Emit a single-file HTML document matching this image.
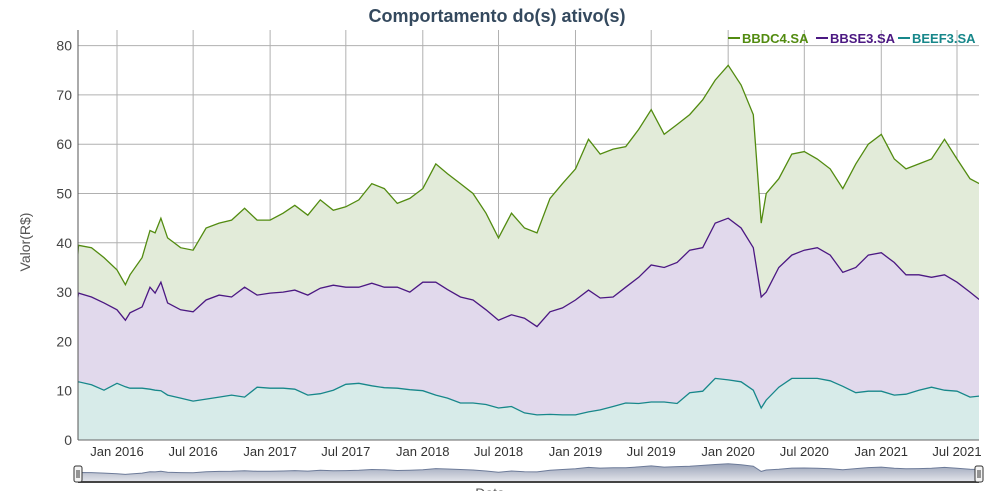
<!DOCTYPE html>
<html><head><meta charset="utf-8">
<style>
body{margin:0;background:#fff;font-family:"Liberation Sans",sans-serif;}
svg{display:block}
</style></head>
<body>
<svg id="chart" width="994" height="491" xmlns="http://www.w3.org/2000/svg">
  <text x="497" y="22" text-anchor="middle" font-size="18" font-weight="bold" fill="#34495e" font-family="Liberation Sans, sans-serif">Comportamento do(s) ativo(s)</text>
  <text transform="translate(30,242) rotate(-90)" text-anchor="middle" font-size="14" fill="#555">Valor(R$)</text>
  <text x="490" y="498" text-anchor="middle" font-size="14" fill="#555">Data</text>
  <g id="grid"></g>
  <g id="areas"></g>
  <g id="axes"></g>
  <g id="legend"></g>
  <g id="nav"></g>
</svg>
<script>
const dates = ["2015-09-28",
"2015-10-01","2015-11-01","2015-12-01",
"2016-01-01","2016-01-21","2016-02-01","2016-03-01","2016-03-20","2016-04-01","2016-04-15","2016-05-01","2016-06-01","2016-07-01","2016-08-01","2016-09-01","2016-10-01","2016-11-01","2016-12-01",
"2017-01-01","2017-02-01","2017-03-01","2017-04-01","2017-05-01","2017-06-01","2017-07-01","2017-08-01","2017-09-01","2017-10-01","2017-11-01","2017-12-01",
"2018-01-01","2018-02-01","2018-03-01","2018-04-01","2018-05-01","2018-06-01","2018-07-01","2018-08-01","2018-09-01","2018-10-01","2018-11-01","2018-12-01",
"2019-01-01","2019-02-01","2019-03-01","2019-04-01","2019-05-01","2019-06-01","2019-07-01","2019-08-01","2019-09-01","2019-10-01","2019-11-01","2019-12-01",
"2020-01-01","2020-02-01","2020-03-01","2020-03-20","2020-04-01","2020-05-01","2020-06-01","2020-07-01","2020-08-01","2020-09-01","2020-10-01","2020-11-01","2020-12-01",
"2021-01-01","2021-02-01","2021-03-01","2021-04-01","2021-05-01","2021-06-01","2021-07-01","2021-08-01","2021-08-23"];
const bbdc4 = [36,
39.5,39,37,
34.5,31.5,33.5,37,42.5,42,45,41,39,38.5,43,44,44.6,47,44.6,
44.6,46,47.6,45.6,48.7,46.6,47.3,48.7,52,51,48,49,
51,56,54,52,50,46,41,46,43,42,49,52,
55,61,58,59,59.5,63,67,62,64,66,69,73,
76,72,66,44,50,53,58,58.5,57,55,51,56,60,
62,57,55,56,57,61,57,53,52];
const bbse3 = [28,
29.8,29,27.8,
26.4,24.3,25.8,27,31,29.8,32,27.8,26.4,26,28.4,29.4,29,31,29.4,
29.8,30,30.4,29.4,30.8,31.4,31,31,31.8,31,31,30,
32,32,30.5,29,28.4,26.4,24.3,25.4,24.7,23,26,26.8,
28.4,30.4,28.8,29,31,33,35.5,35,36,38.5,39,44,
45,43,39,29,30,35,37.5,38.5,39,37.5,34,35,37.5,
38,36,33.5,33.5,33,33.5,32,30,28.5];
const beef3 = [11.5,
11.8,11.2,10.1,
11.5,10.8,10.5,10.5,10.3,10.1,10,9.1,8.5,7.9,8.3,8.7,9.1,8.7,10.7,
10.5,10.5,10.3,9.1,9.4,10.1,11.3,11.5,11,10.6,10.5,10.2,
10,9.1,8.5,7.5,7.5,7.2,6.5,6.8,5.5,5.1,5.2,5.1,
5.1,5.7,6.1,6.8,7.5,7.4,7.7,7.7,7.4,9.6,9.9,12.5,
12.2,11.8,10.1,6.5,8.1,10.7,12.5,12.5,12.5,12,10.9,9.6,9.9,
9.9,9.1,9.3,10.1,10.7,10.1,9.9,8.7,8.9];
const yTicks = [0,10,20,30,40,50,60,70,80];
const xTickDates = ["2016-01-01","2016-07-01","2017-01-01","2017-07-01","2018-01-01","2018-07-01","2019-01-01","2019-07-01","2020-01-01","2020-07-01","2021-01-01","2021-07-01"];
const xTickLabels = ["Jan 2016","Jul 2016","Jan 2017","Jul 2017","Jan 2018","Jul 2018","Jan 2019","Jul 2019","Jan 2020","Jul 2020","Jan 2021","Jul 2021"];
const seriesNames = ["BBDC4.SA","BBSE3.SA","BEEF3.SA"];

const NS="http://www.w3.org/2000/svg";
const L=78,R=979,T=30,B=440;
const t0=Date.parse("2016-01-01"),t1=Date.parse("2021-07-01");
function xs(d){return 117+(Date.parse(d)-t0)/(t1-t0)*(957-117);}
function ys(v){return 440-v*4.93;}
function mk(tag,attrs,parent){const e=document.createElementNS(NS,tag);for(const k in attrs)e.setAttribute(k,attrs[k]);parent.appendChild(e);return e;}
const grid=document.getElementById('grid'),areas=document.getElementById('areas'),axes=document.getElementById('axes'),legend=document.getElementById('legend'),nav=document.getElementById('nav');

yTicks.forEach(v=>{
  const y=ys(v);
  const g=mk('line',{x1:L,x2:R,y1:y,y2:y,stroke:'#b0b0b0','stroke-width':1},grid);
  
  
  const t=mk('text',{x:72,y:y+5,'text-anchor':'end','font-size':14,fill:'#444'},axes);
  t.textContent=v;
  
  
});
xTickDates.forEach((d,i)=>{
  const x=xs(d);
  const g=mk('line',{x1:x,x2:x,y1:T,y2:B,stroke:'#b0b0b0','stroke-width':1},grid);
  
  
  const t=mk('text',{x:x,y:456,'text-anchor':'middle','font-size':13,fill:'#333'},axes);
  t.textContent=xTickLabels[i];
  
  
});

const series=[[bbdc4,'#528b10','#e2ebd9'],[bbse3,'#4b1882','#e1d9ec'],[beef3,'#17878a','#d7ebe9']];
series.forEach((s,si)=>{
  const vals=s[0];
  let line='';
  vals.forEach((v,i)=>{line+=(i?'L':'M')+xs(dates[i]).toFixed(1)+','+ys(v).toFixed(1);});
  const area=line+'L'+xs(dates[dates.length-1]).toFixed(1)+','+B+'L'+xs(dates[0]).toFixed(1)+','+B+'Z';
  const a=mk('path',{d:area,fill:s[2],stroke:'none'},areas);
  
  
  const p=mk('path',{d:line,fill:'none',stroke:s[1],'stroke-width':1.3},areas);
  
  
});
const cp=mk('clipPath',{id:'clip'},mk('defs',{},document.getElementById('chart')));
mk('rect',{x:L,y:T,width:R-L,height:B-T},cp);
areas.setAttribute('clip-path','url(#clip)');

const ax=mk('line',{x1:L,x2:L,y1:T,y2:B,stroke:'#555','stroke-width':1},axes);


const bx=mk('line',{x1:L,x2:R,y1:B,y2:B,stroke:'#666','stroke-width':1},axes);



const legX=[728,816,898];
seriesNames.forEach((n,i)=>{
  const l=mk('line',{x1:legX[i],x2:legX[i]+12,y1:38,y2:38,stroke:series[i][1],'stroke-width':2},legend);
  
  
  const t=mk('text',{x:legX[i]+14,y:43,'font-size':13,'font-weight':'bold',fill:series[i][1]},legend);
  t.textContent=n;
  
  
});

function nys(v){return 482-v*0.24;}
let nl='';
bbdc4.forEach((v,i)=>{nl+=(i?'L':'M')+xs(dates[i]).toFixed(1)+','+nys(v).toFixed(1);});
const gr=mk('linearGradient',{id:'ng',x1:0,x2:0,y1:0,y2:1},document.querySelector('defs'));
mk('stop',{offset:'0','stop-color':'#9aa3b8'},gr);mk('stop',{offset:'1','stop-color':'#e4e6ec'},gr);
const na=mk('path',{d:nl+'L979,482L78,482Z',fill:'url(#ng)',stroke:'none'},nav);


const nln=mk('path',{d:nl,fill:'none',stroke:'#6d7b99','stroke-width':1},nav);


const nb=mk('line',{x1:L,x2:R,y1:482,y2:482,stroke:'#444','stroke-width':2},nav);


[L,R].forEach((hx,i)=>{
  const h=mk('rect',{x:hx-4,y:466,width:8,height:16,rx:2,fill:'#f4f4f4',stroke:'#333','stroke-width':1},nav);
  
  
  mk('line',{x1:hx-1,x2:hx-1,y1:470,y2:478,stroke:'#333'},nav);
  mk('line',{x1:hx+1,x2:hx+1,y1:470,y2:478,stroke:'#333'},nav);
});
</script>
</body></html>
